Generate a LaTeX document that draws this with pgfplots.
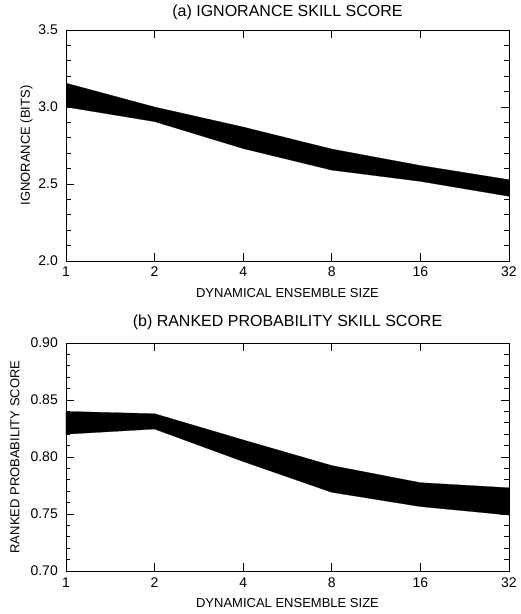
\documentclass[border=0pt]{standalone}
\usepackage{fontspec}
\setmainfont{Liberation Sans}
\usepackage{pgfplots}
\pgfplotsset{compat=1.18}
\pgfkeys{/pgf/number format/assume math mode=true}
\pgfplotsset{idl/.style={
  scale only axis, width=443pt,
  xmin=0, xmax=5, xtick={0,1,2,3,4,5}, xticklabels={1,2,4,8,16,32},
  minor y tick num=4,
  ticklabel style={font=\fontsize{14}{16}\selectfont},
  xticklabel style={anchor=base, yshift=-16pt},
  yticklabel style={anchor=east, inner sep=0pt, xshift=-8pt,
     /pgf/number format/fixed, /pgf/number format/fixed zerofill},
  label style={font=\fontsize{13}{15}\selectfont},
  title style={font=\fontsize{16}{18}\selectfont, anchor=base},
  xlabel={DYNAMICAL ENSEMBLE SIZE},
  tick align=inside, major tick length=8pt, minor tick length=4.5pt,
  tick style={line width=0.8pt, color=black},
  axis line style={line width=0.8pt},
  xmajorgrids, ymajorgrids, yminorgrids,
  every major y grid/.append style={black, line width=0.8pt, dash pattern=on 8pt off 427pt on 8pt},
  every minor y grid/.append style={black, line width=0.8pt, dash pattern=on 4.5pt off 434pt on 4.5pt},
}}
\begin{document}
\begin{tikzpicture}
\path (0,0) rectangle (518pt,614pt);
\begin{axis}[idl, at={(66pt,353pt)}, height=231pt,
  every major x grid/.append style={black, line width=0.8pt, dash pattern=on 8pt off 215pt on 8pt},
  ymin=2.0, ymax=3.5, ytick={2.0,2.5,3.0,3.5},
  yticklabel style={/pgf/number format/precision=1},
  title={(a) IGNORANCE SKILL SCORE},
  title style={at={(axis description cs:0.5,1.0316)}},
  xlabel style={at={(axis description cs:0.5,-0.160)}, anchor=base},
  ylabel={IGNORANCE (BITS)},
  ylabel style={at={(axis description cs:-0.0813,0.5)}, anchor=base},
]
\addplot[fill=black, draw=black, line width=0.2pt] coordinates {
 (0,3.155) (1,3.000) (2,2.870) (3,2.727) (4,2.620) (5,2.528)
 (5,2.420) (4,2.517) (3,2.590) (2,2.730) (1,2.905) (0,3.000)
} -- cycle;
\end{axis}
\begin{axis}[idl, at={(66pt,43pt)}, height=228pt,
  every major x grid/.append style={black, line width=0.8pt, dash pattern=on 8pt off 212pt on 8pt},
  ymin=0.70, ymax=0.90, ytick={0.70,0.75,0.80,0.85,0.90},
  yticklabel style={/pgf/number format/precision=2},
  title={(b) RANKED PROBABILITY SKILL SCORE},
  title style={at={(axis description cs:0.5,1.0465)}},
  xlabel style={at={(axis description cs:0.5,-0.162)}, anchor=base},
  ylabel={RANKED PROBABILITY SCORE},
  ylabel style={at={(axis description cs:-0.1054,0.5)}, anchor=base},
]
\addplot[fill=black, draw=black, line width=0.2pt] coordinates {
 (0,0.8400) (1,0.8380) (2,0.8150) (3,0.7925) (4,0.7775) (5,0.7730)
 (5,0.7490) (4,0.7565) (3,0.7690) (2,0.7960) (1,0.8245) (0,0.8200)
} -- cycle;
\end{axis}
\end{tikzpicture}
\end{document}
